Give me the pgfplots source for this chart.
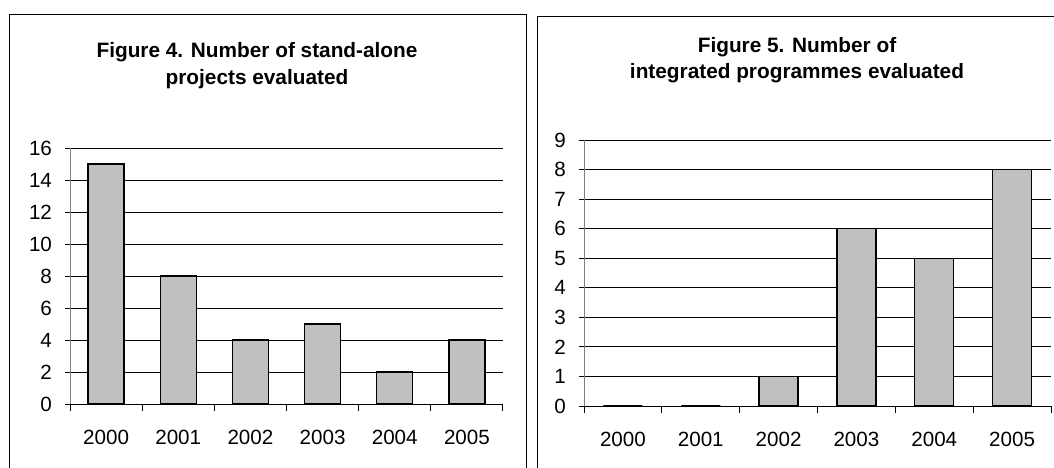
\documentclass[border=0pt]{standalone}
\usepackage{pgfplots}
\pgfplotsset{compat=1.18}
\usepackage{fontspec}
\setmainfont{Liberation Sans}
\definecolor{barfill}{RGB}{192,192,192}

\pgfplotsset{
  panel/.style={
    scale only axis,
    anchor=south west,
    ybar, bar shift=0pt,
    xmin=0, xmax=6,
    ymin=0,
    xtick={0.5,1.5,2.5,3.5,4.5,5.5},
    xticklabels={2000,2001,2002,2003,2004,2005},
    minor xtick={0,1,2,3,4,5,6},
    major x tick style={draw=none},
    minor tick length=3.5pt,
    major tick length=2.5pt,
    tick align=outside,
    axis x line*=bottom,
    axis y line*=left,
    x axis line style={-, black, line width=0.5pt},
    y axis line style={-, gray, line width=0.5pt},
    tick style={black, line width=0.5pt},
    ymajorgrids,
    grid style={black, line width=0.5pt},
    tick label style={font=\fontsize{10.3}{12}\selectfont},
    xticklabel style={yshift=-7pt},
    yticklabel style={xshift=-3pt},
    /pgf/number format/assume math mode=true,
    clip=false,
  },
}

\begin{document}
\begin{tikzpicture}
\path[use as bounding box] (0,0) rectangle (527pt,233.5pt);
\begin{scope}
\clip (0,0) rectangle (527pt,233.5pt);
\draw[line width=0.5pt] (4.5pt,-2pt) -- (4.5pt,226pt) -- (263pt,226pt) -- (263pt,-2pt);
\draw[line width=0.5pt] (268.5pt,-2pt) -- (268.5pt,225pt) -- (530pt,225pt);
\end{scope}

\node[font=\bfseries\fontsize{10.4}{13.5}\selectfont, align=center] at (128.5pt,200.75pt)
  {Figure 4. Number of stand-alone\\projects evaluated};
\node[font=\bfseries\fontsize{10.4}{13}\selectfont, align=center] at (398.5pt,203.5pt)
  {Figure 5. Number of\\integrated programmes evaluated};

\begin{axis}[panel,
  at={(35pt,31.5pt)}, width=216.5pt, height=128pt,
  ymax=16, ytick={0,2,...,16},
  bar width=18pt]
\addplot[fill=barfill, draw=black, line width=0.6pt] coordinates {
  (0.5,15) (1.5,8) (2.5,4) (3.5,5) (4.5,2) (5.5,4)};
\end{axis}

\begin{axis}[panel,
  at={(292pt,30.5pt)}, width=233.5pt, height=133pt,
  ymax=9, ytick={0,1,...,9},
  bar width=19.5pt]
\addplot[fill=barfill, draw=black, line width=0.6pt] coordinates {
  (0.5,0) (1.5,0) (2.5,1) (3.5,6) (4.5,5) (5.5,8)};
\end{axis}
\end{tikzpicture}
\end{document}
